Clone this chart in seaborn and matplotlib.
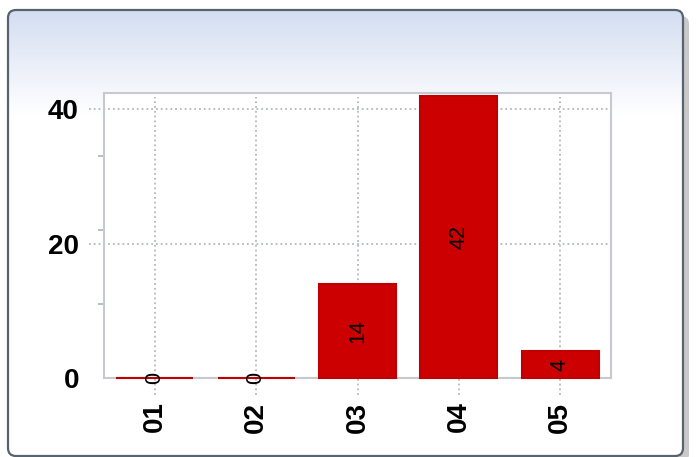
import numpy as np
import matplotlib
matplotlib.use("Agg")
import matplotlib.pyplot as plt
from matplotlib.patches import FancyBboxPatch
import seaborn as sns

# chart data
categories = ["01", "02", "03", "04", "05"]
values = [0, 0, 14, 42, 4]
y_ticks = [0, 20, 40]
y_minor = [11, 22, 33]

sns.set_style("white")
plt.rcParams["font.family"] = ["Liberation Sans", "DejaVu Sans"]

W, H = 699, 457
fig = plt.figure(figsize=(W / 100, H / 100), dpi=100)

# ----- background panel (shadow, gradient, rounded border) -----
bg = fig.add_axes([0, 0, 1, 1], zorder=0)
bg.set_xlim(0, W)
bg.set_ylim(H, 0)
bg.axis("off")

shadow = FancyBboxPatch((14, 16), 675, 446, boxstyle="round,pad=0,rounding_size=8",
                        facecolor="#c9c9c9", edgecolor="none")
bg.add_patch(shadow)

panel = FancyBboxPatch((8, 10), 675, 446, boxstyle="round,pad=0,rounding_size=8",
                       facecolor="white", edgecolor="none")
bg.add_patch(panel)

rows = np.arange(10, 457)
t = np.clip((rows - 10) / 105.0, 0, 1)[:, None, None]
top = np.array([0.83, 0.87, 0.945])
grad = top * (1 - t) + np.ones(3) * t
im = bg.imshow(grad, extent=(8, 683, 456, 10), aspect="auto", zorder=1)
im.set_clip_path(panel)

border = FancyBboxPatch((8, 10), 675, 446, boxstyle="round,pad=0,rounding_size=8",
                        facecolor="none", edgecolor="#59636e", linewidth=1.6, zorder=2)
bg.add_patch(border)

# ----- main plot -----
ax = fig.add_axes([104 / W, 1 - 378 / H, 507 / W, 285 / H], zorder=2)
ax.set_facecolor("white")

sns.barplot(x=categories, y=values, color="#cc0000", saturation=1,
            edgecolor="#c00000", linewidth=1.5, width=0.76, ax=ax, zorder=3)
for p in ax.patches:
    p.set_clip_on(False)

ax.set_xlim(-0.5, len(categories) - 0.5)
ax.set_ylim(0, 42.4)

# dotted grid, running past the frame like the original
for yv in y_ticks[1:]:
    ax.axhline(yv, xmin=-0.03, xmax=1, color="#b4b8bc", linestyle=":",
               linewidth=1.3, clip_on=False, zorder=1)
for i in range(len(categories)):
    ax.axvline(i, ymin=-0.06, ymax=0.985, color="#b4b8bc", linestyle=":",
               linewidth=1.3, clip_on=False, zorder=1)

ax.bar_label(ax.containers[0], labels=[str(v) for v in values],
             label_type="center", rotation=90, fontsize=15.5, color="black", zorder=5)

ax.set_yticks(y_ticks)
ax.set_yticklabels([str(v) for v in y_ticks], fontsize=20, fontweight="bold", color="black")
ax.set_yticks(y_minor, minor=True)
ax.tick_params(axis="y", which="major", length=0, pad=18)
ax.tick_params(axis="y", which="minor", length=4.5, width=1.3, color="#b4b8bc", left=True)

ax.set_xticks(range(len(categories)))
ax.set_xticklabels(categories, rotation=90, fontsize=20, fontweight="bold", color="black")
ax.tick_params(axis="x", length=0, pad=17)

ax.set_xlabel("")
ax.set_ylabel("")

for s in ax.spines.values():
    s.set_color("#c6cacf")
    s.set_linewidth(1.5)
    s.set_visible(True)

fig.savefig("out.png", dpi=100)
